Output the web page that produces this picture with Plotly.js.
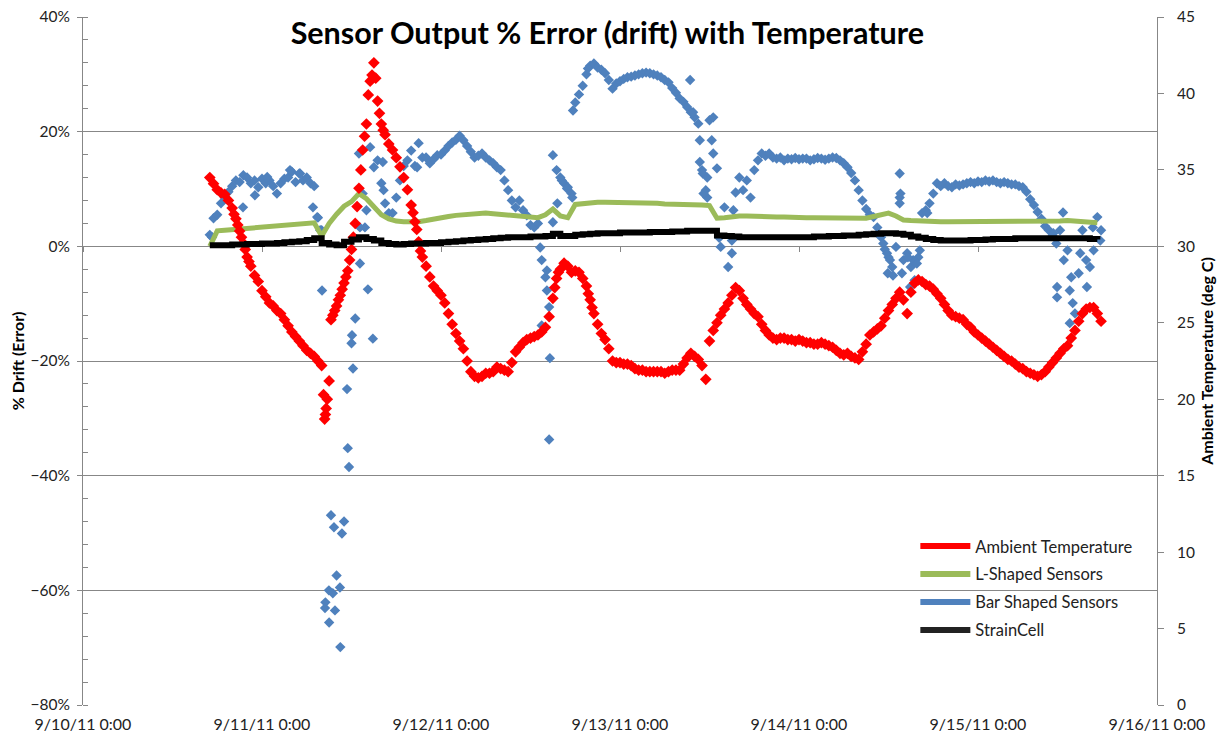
<!DOCTYPE html>
<html>
<head>
<meta charset="utf-8">
<script src="https://cdn.plot.ly/plotly-3.0.1.min.js"></script>
<style>
  html, body { margin: 0; padding: 0; background: #ffffff; }
  #chart { width: 1222px; height: 739px; }
</style>
</head>
<body>
<div id="chart"></div>
<script>
// ---------------- DATA ----------------
// Sampling: hours after 9/10/11 0:00
const tempStartHour = 17, tempStepHours = 0.5;     // Ambient temperature samples
const lineStartHour = 17, lineStepHours = 1;       // L-shaped and StrainCell samples
const barStartHour = 17, barStepHours = 0.5;       // Bar shaped sensor samples

// Ambient Temperature (deg C), secondary axis
const ambientTemperature = [
  34.5, 34.1, 33.7, 33.5, 33.4, 33.0, 32.5, 31.8, 31.0, 30.2, 29.3, 28.7,
  28.1, 27.7, 27.1, 26.7, 26.3, 26.1, 25.8, 25.6, 25.2, 24.8, 24.4, 24.1,
  23.8, 23.5, 23.2, 23.0, 22.8, 22.5, 22.2, 19.0, 21.2, 25.5, 26.1, 26.8,
  27.6, 28.4, 29.8, 31.5, 33.8, 36.3, 38.0, 40.8, 42.0, 39.5, 38.0, 37.3,
  36.7, 36.3, 35.8, 35.2, 34.5, 33.7, 32.7, 31.6, 30.3, 29.3, 28.7, 28.0,
  27.4, 27.1, 26.8, 26.3, 25.6, 24.9, 24.3, 23.8, 23.3, 22.5, 21.8, 21.5,
  21.4, 21.5, 21.7, 21.7, 21.8, 22.1, 22.0, 21.9, 21.8, 22.4, 23.1, 23.4,
  23.7, 23.9, 24.0, 24.1, 24.2, 24.4, 24.7, 25.4, 26.6, 27.9, 28.5, 28.9,
  28.7, 28.3, 28.4, 28.3, 27.9, 27.4, 26.5, 25.6, 24.9, 24.3, 23.9, 23.3,
  22.5, 22.4, 22.4, 22.3, 22.3, 22.2, 22.0, 21.9, 21.9, 21.8, 21.8, 21.8,
  21.8, 21.8, 21.7, 21.8, 21.9, 21.9, 21.9, 22.3, 22.7, 23.0, 22.8, 22.6,
  22.2, 21.3, 23.8, 24.5, 25.0, 25.5, 25.9, 26.3, 26.8, 27.3, 27.1, 26.6,
  26.2, 25.9, 25.6, 25.4, 24.9, 24.5, 24.2, 24.0, 23.9, 24.0, 24.0, 23.9,
  23.9, 23.8, 23.9, 23.8, 23.7, 23.7, 23.6, 23.6, 23.7, 23.6, 23.5, 23.4,
  23.2, 23.0, 22.9, 23.0, 22.8, 22.7, 22.6, 23.1, 23.6, 24.2, 24.4, 24.6,
  24.8, 25.3, 25.8, 26.2, 26.6, 27.0, 26.5, 25.6, 27.0, 27.6, 27.8, 27.7,
  27.5, 27.4, 27.2, 26.9, 26.6, 26.2, 25.8, 25.5, 25.4, 25.3, 25.2, 24.9,
  24.7, 24.4, 24.2, 24.0, 23.8, 23.6, 23.4, 23.2, 23.0, 22.8, 22.6, 22.5,
  22.3, 22.1, 22.0, 21.8, 21.7, 21.6, 21.5, 21.6, 21.8, 22.1, 22.4, 22.7,
  23.0, 23.3, 23.5, 24.0, 24.5, 25.1, 25.6, 25.9, 26.0, 26.0, 25.6, 25.1
];
// Ambient Temperature, extra readings on the steep stretches (hour, deg C)
const tempExtraHours = [
  20.25, 20.75, 21.25, 21.75, 22.25,
  32.25, 32.4, 32.6, 32.75, 33.25, 33.75, 34.25, 34.75, 35.25, 35.75, 36.25, 36.75,
  37.25, 37.75, 38.25, 38.75, 39.25, 39.75, 40.25, 44.25, 44.75, 45.25,
  63.25, 63.75, 67.75, 68.25
];
const tempExtraValues = [
  32.1, 31.4, 30.6, 29.8, 29.0,
  20.3, 18.7, 19.4, 20.0, 25.2, 25.8, 26.5, 27.2, 28.0, 29.1, 30.6, 32.6,
  35.0, 37.2, 39.9, 41.2, 41.0, 38.7, 37.6, 32.2, 31.1, 29.7,
  27.3, 28.3, 26.9, 26.0
];

// L-Shaped Sensors (% drift)
const lShapedSensors = [
  0.0, 2.7, 2.8, 2.9, 3.0, 3.1, 3.2, 3.3, 3.4, 3.5, 3.6, 3.7,
  3.8, 4.0, 4.1, 1.8, 4.0, 5.6, 7.0, 7.8, 9.2, 8.3, 6.8, 5.5,
  4.8, 4.4, 4.3, 4.2, 4.3, 4.5, 4.8, 5.0, 5.2, 5.4, 5.5, 5.7,
  5.8, 5.8, 5.7, 5.6, 5.5, 5.4, 5.3, 5.1, 5.0, 5.5, 6.5, 5.3,
  5.0, 7.3, 7.5, 7.6, 7.7, 7.7, 7.7, 7.6, 7.6, 7.6, 7.5, 7.5,
  7.5, 7.4, 7.4, 7.4, 7.3, 7.3, 7.2, 7.1, 4.9, 5.0, 5.2, 5.3,
  5.3, 5.2, 5.2, 5.1, 5.1, 5.1, 5.0, 5.0, 5.0, 5.0, 5.0, 5.0,
  4.9, 4.9, 4.9, 4.9, 4.9, 5.2, 5.6, 5.8, 5.3, 4.6, 4.5, 4.4,
  4.4, 4.3, 4.3, 4.3, 4.3, 4.3, 4.2, 4.2, 4.2, 4.2, 4.2, 4.2,
  4.3, 4.3, 4.3, 4.3, 4.4, 4.4, 4.4, 4.5, 4.4, 4.3, 4.2, 4.1
];

// StrainCell (% drift)
const strainCell = [
  0.2, 0.2, 0.2, 0.3, 0.3, 0.4, 0.4, 0.5, 0.5, 0.6, 0.7, 0.8,
  0.9, 1.1, 1.4, 0.6, 0.3, 0.2, 0.8, 1.2, 1.6, 1.3, 1.0, 0.6,
  0.4, 0.3, 0.4, 0.5, 0.5, 0.6, 0.6, 0.7, 0.8, 0.9, 1.0, 1.1,
  1.2, 1.3, 1.4, 1.5, 1.6, 1.6, 1.6, 1.7, 1.7, 1.8, 2.2, 1.8,
  1.8, 2.0, 2.1, 2.2, 2.3, 2.3, 2.3, 2.4, 2.4, 2.4, 2.4, 2.5,
  2.5, 2.5, 2.6, 2.6, 2.7, 2.7, 2.7, 2.7, 1.9, 1.8, 1.7, 1.6,
  1.6, 1.6, 1.6, 1.6, 1.6, 1.6, 1.6, 1.6, 1.6, 1.7, 1.7, 1.8,
  1.8, 1.9, 1.9, 2.0, 2.1, 2.2, 2.3, 2.3, 2.2, 2.0, 1.7, 1.5,
  1.3, 1.1, 1.0, 1.0, 1.0, 1.0, 1.1, 1.1, 1.2, 1.3, 1.3, 1.3,
  1.4, 1.4, 1.4, 1.4, 1.4, 1.4, 1.4, 1.4, 1.4, 1.4, 1.3, 1.2
];

// Bar Shaped Sensors (% drift), regular samples
const barShapedSensors = [
  2.0, 4.9, 5.5, 7.5, 8.5, 9.5, 10.5, 11.5, 11.2, 12.4, 12.0, 11.0,
  11.5, 10.3, 11.8, 11.0, 11.5, 10.5, 9.2, 11.0, 11.8, 12.0, 13.0, 11.2,
  12.7, 11.5, 12.0, 11.0, 10.5, 5.0, 2.8, -62.1, -65.6, -60.5, -57.4, -69.9,
  -48.0, -35.2, -16.9, -12.6, 16.2, 9.2, 6.3, 17.3, 13.8, 15.0, 11.0, 7.5,
  5.8, 5.8, 8.5, 11.5, 14.0, 15.0, 16.7, 14.0, 18.0, 15.5, 15.5, 14.5,
  15.2, 15.9, 16.0, 16.7, 17.5, 18.1, 18.6, 19.3, 18.5, 17.5, 16.5, 15.5,
  15.8, 16.2, 15.5, 15.0, 14.5, 13.8, 13.3, 11.5, 9.8, 8.0, 6.8, 8.0,
  6.3, 5.4, 3.7, 3.3, 4.0, -2.4, -5.4, -10.6, 4.2, 13.3, 12.0, 11.0,
  10.3, 9.2, 25.1, 26.5, 28.0, 30.0, 31.5, 31.9, 31.2, 30.8, 30.2, 29.0,
  27.5, 28.4, 28.8, 29.2, 29.5, 29.6, 29.8, 30.0, 30.2, 30.3, 30.2, 30.0,
  29.8, 29.5, 29.0, 28.6, 27.6, 26.8, 25.8, 25.2, 24.3, 23.4, 22.5, 21.4,
  13.3, 9.8, 22.0, 16.2, 13.6, -0.1, 6.8, -3.6, 1.0, 9.4, 12.0, 9.8,
  11.5, 8.5, 13.3, 15.0, 16.2, 15.8, 16.2, 15.5, 15.3, 15.5, 15.0, 15.3,
  15.2, 15.4, 15.2, 15.3, 15.3, 15.0, 15.2, 15.4, 15.3, 15.1, 15.3, 15.5,
  15.4, 15.0, 14.5, 13.8, 12.8, 11.5, 9.8, 8.0, 6.5, 5.5, 5.1, 3.3,
  1.6, -0.5, -1.9, -3.6, -0.1, 8.5, -2.4, -1.2, -3.6, -5.9, -1.9, 5.8,
  6.3, 7.5, 9.2, 11.0, 10.5, 11.0, 10.5, 10.3, 10.8, 10.6, 10.8, 11.0,
  11.2, 11.0, 11.3, 11.2, 11.5, 11.3, 11.5, 11.2, 11.0, 11.2, 11.0, 10.8,
  10.8, 10.5, 10.3, 9.5, 8.2, 7.2, 6.0, 4.8, 3.5, 2.8, 1.8, 0.5,
  2.8, -2.4, -0.7, -5.4, -11.7, -4.7, 2.8, -2.4, -3.6, -0.7, 5.1, 2.8
];

// Bar Shaped Sensors, extra scattered readings (hour after 9/10 0:00, % drift)
const barExtraHours = [
  17.3, 21.45, 23.06, 24.7, 27.76, 29.1, 30.84, 31.4, 31.8,
  32.05, 32.45, 32.98, 33.25, 33.65, 33.79, 34.46, 34.73, 35.4, 35.67, 36.07, 36.2,
  37.14, 38.21, 38.88, 37.14, 37.81, 40.2, 40.3, 44.8,
  61.3, 62.2, 62.2, 61.5, 62.6, 62.5, 63.0, 63.6, 64.2, 64.9, 65.6, 65.7, 67.7,
  81.4, 81.8, 82.7, 82.7, 83.1, 83.7, 83.7, 83.2, 84.3, 84.5, 85.3, 87.0, 87.2,
  107.3, 107.8, 107.9, 109.5, 109.5, 109.6, 109.8, 111.3, 112.2, 113.2, 108.6, 110.6, 110.9, 111.8, 108.2,
  131.4, 130.6, 130.6, 132.3, 132.7, 132.3, 133.7, 134.6, 135.4, 136.4, 130.1
];
const barExtraValues = [
  1.6, 6.8, 8.9, 12.1, 13.3, 12.7, 6.8, 5.1, 2.8,
  -7.7, -63.1, -60.0, -46.9, -49.0, -63.5, -59.5, -50.1, -24.9, -38.5, -15.5, -21.3,
  -3.0, -7.5, -16.1, 3.3, 3.3, 14.7, 9.8, 13.8,
  -0.2, -4.2, -7.7, -13.8, -19.5, -33.7, 15.9, 7.5, 11.5, 10.1, 8.5, 23.7, 31.0,
  29.0, 23.4, 18.5, 14.7, 12.7, 12.0, 8.5, 9.2, 18.5, 22.5, 1.5, -1.2, 6.3,
  0.5, -1.2, -4.7, 12.7, 7.5, 9.2, -4.7, -2.4, -0.7, 5.8, -5.1, -1.9, -7.1, -3.0, -2.4,
  5.9, -7.1, -8.9, -7.7, -9.9, -13.4, -1.2, -7.1, 3.3, 1.0, 2.3
];

const seriesNames = ['Ambient Temperature', 'L-Shaped Sensors', 'Bar Shaped Sensors', 'StrainCell'];
const seriesColors = ['#FF0000', '#9BBB59', '#4F81BD', '#000000'];

const chartTitle = 'Sensor Output % Error (drift) with Temperature';
const leftAxisTitle = '% Drift (Error)';
const rightAxisTitle = 'Ambient Temperature (deg C)';
const xRange = ['2011-09-10 00:00', '2011-09-16 00:00'];

// ---------------- HELPERS ----------------
function hourToStamp(h) {
  const t = new Date(Date.UTC(2011, 8, 10) + Math.round(h * 3600000));
  const p = n => String(n).padStart(2, '0');
  return t.getUTCFullYear() + '-' + p(t.getUTCMonth() + 1) + '-' + p(t.getUTCDate()) +
    ' ' + p(t.getUTCHours()) + ':' + p(t.getUTCMinutes());
}
function gridTimes(start, step, n) {
  return Array.from({length: n}, (_, i) => hourToStamp(start + i * step));
}

const tempTimes = gridTimes(tempStartHour, tempStepHours, ambientTemperature.length)
  .concat(tempExtraHours.map(hourToStamp));
const tempValues = ambientTemperature.concat(tempExtraValues);
const lineTimes = gridTimes(lineStartHour, lineStepHours, lShapedSensors.length);
const barTimes = gridTimes(barStartHour, barStepHours, barShapedSensors.length)
  .concat(barExtraHours.map(hourToStamp));
const barValues = barShapedSensors.concat(barExtraValues);

const FONT = 'Lato, "Open Sans", Arial, sans-serif';
const GRID = '#878787';

const traces = [
  { x: barTimes, y: barValues, type: 'scatter', mode: 'markers', name: seriesNames[2],
    showlegend: false, xaxis: 'x', yaxis: 'y',
    marker: { symbol: 'diamond', size: 8, color: seriesColors[2] } },
  { x: lineTimes, y: lShapedSensors, type: 'scatter', mode: 'lines', name: seriesNames[1],
    showlegend: false, xaxis: 'x', yaxis: 'y',
    line: { color: seriesColors[1], width: 5 } },
  { x: lineTimes, y: strainCell, type: 'scatter', mode: 'lines', name: seriesNames[3],
    showlegend: false, xaxis: 'x2', yaxis: 'y',
    line: { color: seriesColors[3], width: 6, shape: 'hv' } },
  { x: tempTimes, y: tempValues, type: 'scatter', mode: 'markers', name: seriesNames[0],
    showlegend: false, xaxis: 'x', yaxis: 'y2',
    marker: { symbol: 'diamond', size: 9, color: seriesColors[0] } }
];
// legend entries (line samples, as in the original legend)
seriesNames.forEach((nm, i) => {
  traces.push({ x: [null], y: [null], type: 'scatter', mode: 'lines', name: nm,
    legendgroup: 'g' + i, xaxis: 'x', yaxis: i === 0 ? 'y2' : 'y',
    line: { color: i === 3 ? '#222222' : seriesColors[i], width: 6 } });
});

const layout = {
  width: 1222, height: 739,
  margin: { l: 83, r: 65, t: 17, b: 34, pad: 0 },
  paper_bgcolor: '#ffffff', plot_bgcolor: '#ffffff',
  font: { family: FONT, color: '#333333', size: 14 },
  title: { text: '<b>' + chartTitle + '</b>', x: 0.497, xref: 'container', xanchor: 'center',
    y: 1 - 33 / 739, yref: 'container', yanchor: 'middle',
    font: { family: FONT, size: 30.5, color: '#000000' } },
  showlegend: true,
  legend: { x: 0.775, y: 0.256, xanchor: 'left', yanchor: 'top', bgcolor: 'rgba(0,0,0,0)',
    font: { family: FONT, size: 16.5, color: '#222222' }, tracegroupgap: 3.5, itemwidth: 50 },
  xaxis: { type: 'date', range: xRange, showgrid: false, zeroline: false, showline: false,
    ticks: '', dtick: 86400000, tick0: '2011-09-10', tickformat: '%-m/%-d/%y %-H:%M',
    tickfont: { family: FONT, size: 16, color: '#222222' }, ticklabelstandoff: 8 },
  xaxis2: { type: 'date', range: xRange, overlaying: 'x', anchor: 'free', position: 80 / 120,
    showgrid: false, zeroline: false, showline: false, showticklabels: false,
    ticks: 'outside', ticklen: 5, tickcolor: GRID, tickwidth: 1, dtick: 86400000, tick0: '2011-09-10' },
  yaxis: { range: [-80, 40], dtick: 20, ticksuffix: '%', showgrid: true, gridcolor: GRID, gridwidth: 1,
    zeroline: false, showline: true, linecolor: GRID, linewidth: 1,
    ticks: 'outside', ticklen: 5, tickcolor: GRID,
    minor: { dtick: 4, ticks: 'inside', ticklen: 5, tickcolor: GRID, showgrid: false },
    tickfont: { family: FONT, size: 15.5, color: '#222222' }, ticklabelstandoff: 4,
    title: { text: '<b>' + leftAxisTitle + '</b>', standoff: 1,
      font: { family: FONT, size: 16, color: '#000000' } } },
  yaxis2: { range: [0, 45], dtick: 5, overlaying: 'y', side: 'right', showgrid: false,
    zeroline: false, showline: true, linecolor: GRID, linewidth: 1,
    ticks: 'outside', ticklen: 6, tickcolor: GRID,
    tickfont: { family: FONT, size: 15.5, color: '#222222' }, ticklabelstandoff: 10,
    title: { text: '<b>' + rightAxisTitle + '</b>', standoff: 7,
      font: { family: FONT, size: 16, color: '#000000' } } }
};

Plotly.newPlot('chart', traces, layout, { staticPlot: true, displayModeBar: false });
</script>
</body>
</html>
